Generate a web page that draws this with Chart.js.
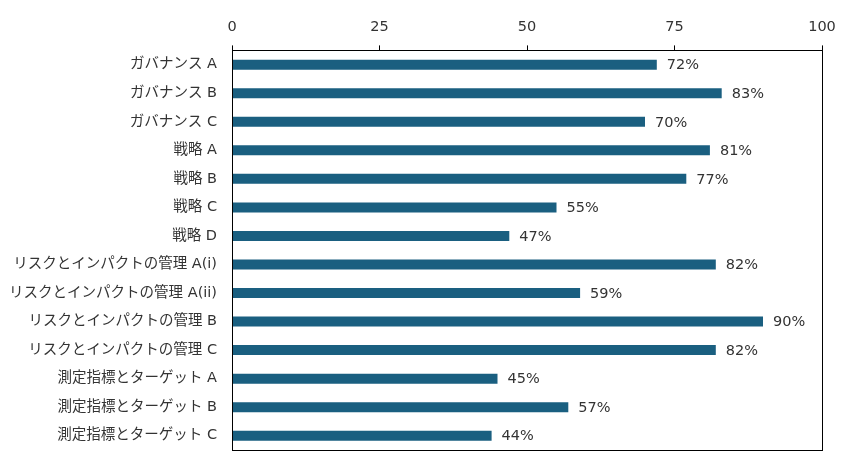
<!DOCTYPE html>
<html>
<head>
<meta charset="utf-8">
<script src="https://cdn.jsdelivr.net/npm/chart.js@4"></script>
<style>
  html, body { margin: 0; padding: 0; background: #fff; }
  #wrap { width: 849px; height: 461px; }
</style>
</head>
<body>
<div id="wrap"><canvas id="chartjsBars"></canvas></div>
<script>
const categories = [
    "ガバナンス A", "ガバナンス B", "ガバナンス C",
    "戦略 A", "戦略 B", "戦略 C", "戦略 D",
    "リスクとインパクトの管理 A(i)", "リスクとインパクトの管理 A(ii)",
    "リスクとインパクトの管理 B", "リスクとインパクトの管理 C",
    "測定指標とターゲット A", "測定指標とターゲット B", "測定指標とターゲット C"
];
const values = [72, 83, 70, 81, 77, 55, 47, 82, 59, 90, 82, 45, 57, 44];
const xTicks = [0, 25, 50, 75, 100];

const FONT = "'DejaVu Sans', 'Noto Sans CJK JP', sans-serif";

// 枠線と数値ラベル
const boxAndLabels = {
    id: "boxAndLabels",
    afterDatasetsDraw(chart) {
        const { ctx, chartArea } = chart;
        const meta = chart.getDatasetMeta(0);
        ctx.save();
        ctx.font = "14.5px " + FONT;
        ctx.fillStyle = "#333";
        ctx.textBaseline = "middle";
        meta.data.forEach((bar, i) => {
            ctx.fillText(values[i] + "%", bar.x + 10, bar.y + 1);
        });
        ctx.strokeStyle = "#000";
        ctx.lineWidth = 1;
        ctx.strokeRect(Math.round(chartArea.left) + 0.5, Math.round(chartArea.top) + 0.5,
            Math.round(chartArea.width), Math.round(chartArea.height));
        ctx.restore();
    },
};

new Chart(document.getElementById("chartjsBars"), {
    type: "bar",
    data: {
        labels: categories,
        datasets: [{
            data: values,
            backgroundColor: "#1a5f80",
            barPercentage: 0.7,
            categoryPercentage: 0.5,
        }],
    },
    options: {
        indexAxis: "y",
        responsive: true,
        maintainAspectRatio: false,
        animation: false,
        layout: { padding: { top: 10, right: 27, bottom: 11, left: 0 } },
        plugins: { legend: { display: false }, tooltip: { enabled: false } },
        scales: {
            x: {
                position: "top",
                min: 0,
                max: 100,
                afterBuildTicks(axis) { axis.ticks = xTicks.map(v => ({ value: v })); },
                grid: { drawOnChartArea: false, color: "#000", tickLength: 5 },
                border: { display: false },
                ticks: { color: "#333", font: { family: FONT, size: 14.5 }, padding: 9 },
            },
            y: {
                afterFit(axis) {
                    axis.width = 232;
                    axis.paddingTop = 0;
                    axis.paddingBottom = 0;
                },
                grid: { display: false },
                border: { display: false },
                ticks: { color: "#333", font: { family: FONT, size: 14.5 }, padding: 7 },
            },
        },
    },
    plugins: [boxAndLabels],
});
</script>
</body>
</html>
